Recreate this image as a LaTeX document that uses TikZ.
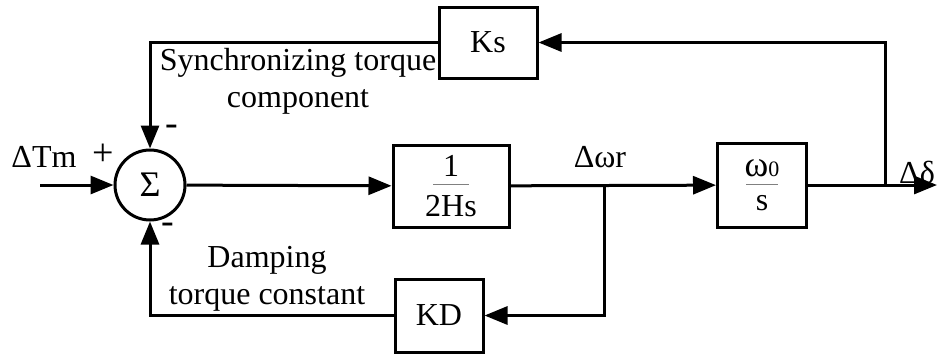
\documentclass[tikz,border=0pt]{standalone}
\usepackage{fontspec}
\setmainfont{Liberation Serif}
\usetikzlibrary{arrows.meta}

% fraction inside a block: numerator, denominator, bar width
\newcommand{\blockfrac}[3]{\vbox{\offinterlineskip\halign{\hfil##\hfil\cr #1\cr\noalign{\kern3.5pt}{\color{gray}\rule{#3}{0.8pt}}\cr\noalign{\kern5pt}#2\cr}}}

\begin{document}
\begin{tikzpicture}[
    x=0.5pt, y=-0.5pt,
    font=\fontsize{16}{18.5}\selectfont,
    block/.style={draw, line width=1.5pt, inner sep=0pt, minimum height=41pt},
    sumnode/.style={draw, circle, line width=1.5pt, inner sep=0pt, minimum size=35pt},
    lbl/.style={align=center, inner sep=0pt},
    sgn/.style={inner sep=0pt, font=\fontsize{19}{20}\selectfont},
    sig/.style={line width=1.5pt, -{Triangle[length=11.5pt,width=9pt]}},
]
\useasboundingbox (0,0) rectangle (937,355);

\node[sumnode] (sum) at (150,185) {\fontsize{18}{20}\selectfont Σ};
\node[block, minimum width=58pt] (gain) at (451,186) {\blockfrac{1}{2Hs}{18pt}};
\node[block, minimum width=44.5pt, minimum height=42pt] (integ) at (762,185) {\blockfrac{{\fontsize{18}{20}\selectfont ω}{\fontsize{11}{12}\selectfont 0}}{s}{16pt}};
\node[block, minimum width=49pt, minimum height=35.5pt] (ks) at (488,42.5) {Ks};
\node[block, minimum width=44pt, minimum height=36.5pt] (kd) at (439,315.5) {KD};

\coordinate (in) at (40,185);
\coordinate (wtap) at (604,185);
\coordinate (dtap) at (885,185);
\coordinate (out) at (937,185);

% signal labels
\node[lbl] (dtm) at (44,157) {ΔTm};
\node[sgn] (plus) at (103,155) {+};
\node[sgn] (mtop) at (172,130) {-};
\node[sgn] (mbot) at (168,228) {-};
\node[lbl] (dw) at (600,157) {Δωr};
\node[lbl] (dd) at (917,172) {Δδ};
\node[lbl] (synclbl) at (298,81.5) {Synchronizing torque\\component};
\node[lbl] (damplbl) at (267,279) {Damping\\torque constant};

% forward path
\draw[sig] (in) -- (sum);
\draw[sig] (sum) -- (gain);
\draw[sig] (gain) -- (integ);
\draw[sig] (integ) -- (out);

% feedback loops
\draw[sig] (dtap) |- (ks);
\draw[sig] (ks) -| (sum);
\draw[sig] (wtap) |- (kd);
\draw[sig] (kd) -| (sum);
\end{tikzpicture}
\end{document}
